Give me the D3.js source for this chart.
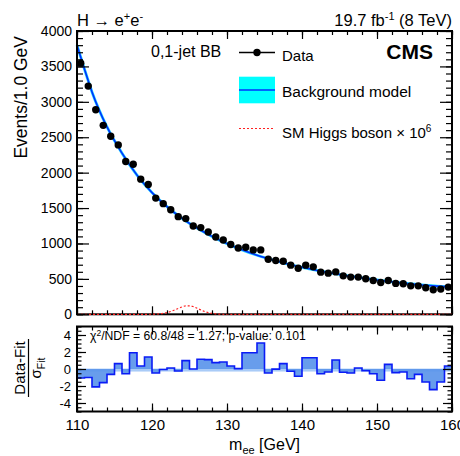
<!DOCTYPE html>
<html><head><meta charset="utf-8">
<script src="https://cdn.jsdelivr.net/npm/d3@7"></script>
<style>
body{margin:0;background:#fff}
svg{display:block}
text{font-family:"Liberation Sans",Arial,Helvetica,sans-serif;fill:#000}
</style>
</head><body>
<svg id="c" width="460" height="456"></svg>
<script>
// ---------------- data ----------------
const binCenters = [110.5,111.5,112.5,113.5,114.5,115.5,116.5,117.5,118.5,119.5,
  120.5,121.5,122.5,123.5,124.5,125.5,126.5,127.5,128.5,129.5,
  130.5,131.5,132.5,133.5,134.5,135.5,136.5,137.5,138.5,139.5,
  140.5,141.5,142.5,143.5,144.5,145.5,146.5,147.5,148.5,149.5,
  150.5,151.5,152.5,153.5,154.5,155.5,156.5,157.5,158.5,159.5];
const events = [3546,3222,2889,2668,2513,2392,2157,2119,1908,1833,
  1641,1562,1477,1379,1351,1247,1224,1162,1092,1050,
  985,937,947,909,909,778,760,750,694,651,
  694,670,595,581,599,543,525,525,501,478,
  450,478,436,431,402,402,374,346,356,384];
const residuals = [-1.06,-1.0,-2.1,-1.6,-0.63,0.63,-0.55,1.92,0.35,1.41,
  -0.47,-0.05,0.12,-0.24,0.98,0.0,1.14,1.1,0.75,0.82,
  0.35,0.04,1.92,1.92,3.06,-0.47,-0.02,0.63,-0.27,-0.86,
  1.33,1.33,-0.55,-0.35,1.06,-0.39,-0.47,0.12,-0.2,-0.55,
  -1.33,0.55,-0.43,-0.35,-1.14,-0.63,-1.53,-2.43,-1.53,0.35];
const fitMass   = [110,111,112,114,116,118,120,122,124,126,128,130,132,134,136,138,140,142,144,146,148,150,152,154,156,158,160];
const fitValues = [3800,3460,3140,2645,2275,1965,1718,1520,1355,1218,1100,998,910,834,770,713,663,619,580,545,513,485,459,435,414,398,385];
const higgsMass   = [110,119,120,120.5,121,121.5,122,122.5,123,123.5,124,124.5,125,125.5,126,126.5,127,127.5,128,128.5,129,130,160];
const higgsValues = [0,0,1,3,7,14,25,40,60,82,104,119,120,108,86,62,40,24,13,6,2,0,0];
const yTicksMain  = [0,500,1000,1500,2000,2500,3000,3500,4000];
const yTicksRatio = [-4,-2,0,2,4];
const xTicks      = [110,120,130,140,150,160];

// ---------------- layout ----------------
const svg = d3.select('#c');
const L = 77, R = 452, T1 = 31, B1 = 314.3, T2 = 326.5, B2 = 411.5;
const x  = d3.scaleLinear().domain([110,160]).range([L,R]);
const y  = d3.scaleLinear().domain([0,4000]).range([B1,T1]);
const yr = d3.scaleLinear().domain([-5,5]).range([B2,T2]);

const xMinor = d3.range(110,160.01,2);
const yMinorMain = d3.range(0,4000.1,100);
const yMinorRatio = d3.range(-5,5.01,0.5);
const plain = d => String(d);

function axisGroup(axis, tx, ty){
  const g = svg.append('g').attr('transform',`translate(${tx},${ty})`).call(axis);
  g.select('.domain').remove();
  g.selectAll('line').attr('stroke','#000').attr('stroke-width',1.2);
  return g;
}

// ---------- main panel ----------
const fitPts = d3.zip(fitMass, fitValues);
const fitLine = d3.line().x(d=>x(d[0])).y(d=>y(d[1])).curve(d3.curveMonotoneX);
svg.append('path').attr('d',fitLine(fitPts)).attr('fill','none').attr('stroke','#22d8ff').attr('stroke-width',2.8);
svg.append('path').attr('d',fitLine(fitPts)).attr('fill','none').attr('stroke','#0030ff').attr('stroke-width',1.6);

svg.append('g').selectAll('circle').data(binCenters).join('circle')
  .attr('cx',d=>x(d)).attr('cy',(d,i)=>y(events[i])).attr('r',3.7).attr('fill','#000');

svg.append('rect').attr('x',L).attr('y',T1).attr('width',R-L).attr('height',B1-T1)
  .attr('fill','none').attr('stroke','#000').attr('stroke-width',2);

const sigLine = d3.line().x(d=>x(d[0])).y(d=>y(d[1])).curve(d3.curveMonotoneX);
svg.append('path').attr('d',sigLine(d3.zip(higgsMass,higgsValues))).attr('fill','none')
  .attr('stroke','#ff2020').attr('stroke-width',1.2).attr('stroke-dasharray','2,2');

const gl = axisGroup(d3.axisLeft(y).tickValues(yTicksMain).tickSize(-12).tickPadding(5).tickFormat(plain), L, 0);
gl.selectAll('text').attr('font-size',14).attr('font-family','"Liberation Sans",Arial,sans-serif');
axisGroup(d3.axisLeft(y).tickValues(yMinorMain).tickSize(-6).tickFormat(''), L, 0);
axisGroup(d3.axisRight(y).tickValues(yTicksMain).tickSize(-12).tickFormat(''), R, 0);
axisGroup(d3.axisRight(y).tickValues(yMinorMain).tickSize(-6).tickFormat(''), R, 0);
axisGroup(d3.axisTop(x).tickValues(xTicks).tickSize(-8).tickFormat(''), 0, T1);
axisGroup(d3.axisTop(x).tickValues(xMinor).tickSize(-4).tickFormat(''), 0, T1);
axisGroup(d3.axisBottom(x).tickValues(xTicks).tickSize(-8).tickFormat(''), 0, B1);
axisGroup(d3.axisBottom(x).tickValues(xMinor).tickSize(-4).tickFormat(''), 0, B1);

// ---------- ratio panel ----------
const histPts = binCenters.map((c,i)=>({m:c-0.5, r:residuals[i]}));
histPts.push({m:160, r:residuals[residuals.length-1]});
const area = d3.area().curve(d3.curveStepAfter).x(d=>x(d.m)).y0(yr(0)).y1(d=>yr(d.r));
svg.append('rect').attr('x',L).attr('width',R-L).attr('y',yr(0.05)).attr('height',yr(-0.3)-yr(0.05))
  .attr('fill','#a9cbf7');
svg.append('path').attr('d',area(histPts)).attr('fill','#5b95ea').attr('fill-opacity',0.92);
const step = d3.line().curve(d3.curveStepAfter).x(d=>x(d.m)).y(d=>yr(d.r));
svg.append('path').attr('d',step(histPts)).attr('fill','none').attr('stroke','#0a1cf5').attr('stroke-width',1.6);

svg.append('rect').attr('x',L).attr('y',T2).attr('width',R-L).attr('height',B2-T2)
  .attr('fill','none').attr('stroke','#000').attr('stroke-width',2);

const rl = axisGroup(d3.axisLeft(yr).tickValues(yTicksRatio).tickSize(-9).tickPadding(6).tickFormat(plain), L, 0);
rl.selectAll('text').attr('font-size',13).attr('font-family','"Liberation Sans",Arial,sans-serif');
axisGroup(d3.axisLeft(yr).tickValues(yMinorRatio).tickSize(-4.5).tickFormat(''), L, 0);
axisGroup(d3.axisRight(yr).tickValues(yTicksRatio).tickSize(-9).tickFormat(''), R, 0);
axisGroup(d3.axisRight(yr).tickValues(yMinorRatio).tickSize(-4.5).tickFormat(''), R, 0);
axisGroup(d3.axisTop(x).tickValues(xTicks).tickSize(-8).tickFormat(''), 0, T2);
axisGroup(d3.axisTop(x).tickValues(xMinor).tickSize(-4).tickFormat(''), 0, T2);
const rb = axisGroup(d3.axisBottom(x).tickValues(xTicks).tickSize(-8).tickFormat(plain), 0, B2);
rb.selectAll('text').attr('font-size',15).attr('dy',null).attr('y',18.5)
  .attr('font-family','"Liberation Sans",Arial,sans-serif');
axisGroup(d3.axisBottom(x).tickValues(xMinor).tickSize(-4).tickFormat(''), 0, B2);

// ---------- texts ----------
const t1 = svg.append('text').attr('x',77).attr('y',26).attr('font-size',16.5);
t1.append('tspan').text('H \u2192 e');
t1.append('tspan').attr('dy',-6).attr('font-size',11).text('+');
t1.append('tspan').attr('dy',6).text('e');
t1.append('tspan').attr('dy',-6).attr('font-size',11).text('-');

const t2 = svg.append('text').attr('x',452).attr('y',26).attr('font-size',16.5).attr('text-anchor','end');
t2.append('tspan').text('19.7 fb');
t2.append('tspan').attr('dy',-6).attr('font-size',11).text('-1');
t2.append('tspan').attr('dy',6).text(' (8 TeV)');

svg.append('text').attr('transform','translate(27,36) rotate(-90)').attr('text-anchor','end')
  .attr('font-size',17.5).text('Events/1.0 GeV');

svg.append('text').attr('x',151).attr('y',57).attr('font-size',16).text('0,1-jet BB');
svg.append('text').attr('x',433).attr('y',58.5).attr('font-size',21).attr('font-weight','bold')
  .attr('text-anchor','end').text('CMS');

svg.append('line').attr('x1',239).attr('x2',275).attr('y1',52.5).attr('y2',52.5).attr('stroke','#000').attr('stroke-width',1.3);
svg.append('circle').attr('cx',257).attr('cy',52.5).attr('r',3.7).attr('fill','#000');
svg.append('text').attr('x',282).attr('y',61).attr('font-size',15).text('Data');

svg.append('rect').attr('x',239).attr('y',76.7).attr('width',36).attr('height',26.6).attr('fill','#00ffff');
svg.append('line').attr('x1',239).attr('x2',275).attr('y1',90).attr('y2',90).attr('stroke','#0030ff').attr('stroke-width',1.6);
svg.append('text').attr('x',282).attr('y',97).attr('font-size',15.5).text('Background model');

svg.append('line').attr('x1',239).attr('x2',275).attr('y1',128.5).attr('y2',128.5)
  .attr('stroke','#ff2020').attr('stroke-width',1.2).attr('stroke-dasharray','2,2');
const t3 = svg.append('text').attr('x',282).attr('y',137.5).attr('font-size',15);
t3.append('tspan').text('SM Higgs boson \u00d7 10');
t3.append('tspan').attr('dy',-6).attr('font-size',10).text('6');

const t4 = svg.append('text').attr('x',90).attr('y',340).attr('font-size',12.2);
t4.append('tspan').text('\u03c7');
t4.append('tspan').attr('dy',-4).attr('font-size',8.5).text('2');
t4.append('tspan').attr('dy',4).text('/NDF = 60.8/48 = 1.27; p-value: 0.101');

svg.append('text').attr('transform','translate(25,368) rotate(-90)').attr('text-anchor','middle')
  .attr('font-size',15).text('Data-Fit');
svg.append('line').attr('x1',28.5).attr('x2',28.5).attr('y1',339).attr('y2',397).attr('stroke','#000').attr('stroke-width',1.2);
const t5 = svg.append('text').attr('transform','translate(41,368) rotate(-90)').attr('text-anchor','middle').attr('font-size',15);
t5.append('tspan').text('\u03c3');
t5.append('tspan').attr('dy',4).attr('font-size',10.5).text('Fit');

const t6 = svg.append('text').attr('x',300).attr('y',450).attr('font-size',16).attr('text-anchor','end');
t6.append('tspan').text('m');
t6.append('tspan').attr('dy',4).attr('font-size',11).text('ee');
t6.append('tspan').attr('dy',-4).text(' [GeV]');
</script>
</body></html>
